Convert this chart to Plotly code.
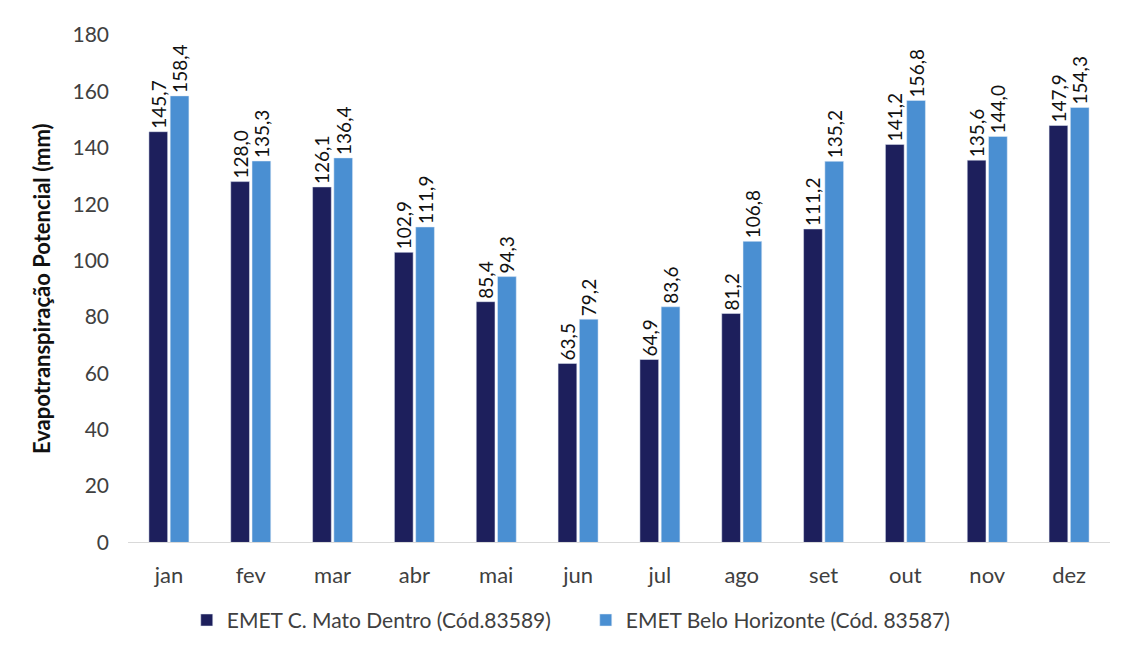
import plotly.graph_objects as go

meses = ["jan", "fev", "mar", "abr", "mai", "jun", "jul", "ago", "set", "out", "nov", "dez"]
mato_dentro = [145.7, 128.0, 126.1, 102.9, 85.4, 63.5, 64.9, 81.2, 111.2, 141.2, 135.6, 147.9]
belo_horizonte = [158.4, 135.3, 136.4, 111.9, 94.3, 79.2, 83.6, 106.8, 135.2, 156.8, 144.0, 154.3]
y_ticks = [0, 20, 40, 60, 80, 100, 120, 140, 160, 180]

nome_md = "EMET C. Mato Dentro (Cód.83589)"
nome_bh = "EMET Belo Horizonte (Cód. 83587)"

def rotulo(v):
    return f"{v:.1f}".replace(".", ",")

font_family = "Lato, Open Sans, sans-serif"
label_font = dict(size=19, color="#111111", family=font_family)

fig = go.Figure()
fig.add_trace(go.Bar(
    x=meses, y=mato_dentro, name=nome_md,
    marker_color="#1d1f5c",
    text=[rotulo(v) for v in mato_dentro],
    textposition="outside", textangle=-90, constraintext="none",
    textfont=label_font, cliponaxis=False,
))
fig.add_trace(go.Bar(
    x=meses, y=belo_horizonte, name=nome_bh,
    marker_color="#4a8fd2",
    text=[rotulo(v) for v in belo_horizonte],
    textposition="outside", textangle=-90, constraintext="none",
    textfont=label_font, cliponaxis=False,
))

fig.update_layout(
    width=1125, height=653,
    margin=dict(l=128, r=15, t=35, b=108),
    paper_bgcolor="white", plot_bgcolor="white",
    barmode="group", bargap=0.48, bargroupgap=0.12,
    font=dict(family=font_family, size=18, color="#404040"),
    legend=dict(
        orientation="h", xref="container", x=0.166, xanchor="left",
        yref="container", y=0.05, yanchor="middle",
        font=dict(size=21, color="#404040"),
        itemwidth=30, entrywidth=354, traceorder="normal",
    ),
)
fig.update_xaxes(
    showgrid=False, showline=True, linecolor="#d9d9d9", linewidth=1,
    ticks="", ticklabelstandoff=13, tickfont=dict(size=22, color="#404040"),
)
fig.update_yaxes(
    range=[0, 180], tickvals=y_ticks, showgrid=False, zeroline=False,
    showline=False, ticklabelstandoff=18, tickfont=dict(size=21, color="#404040"),
    title=dict(text="<b>Evapotranspiração Potencial (mm)</b>",
               font=dict(size=22, color="#111111"), standoff=15),
)

fig.write_html("out.html")
